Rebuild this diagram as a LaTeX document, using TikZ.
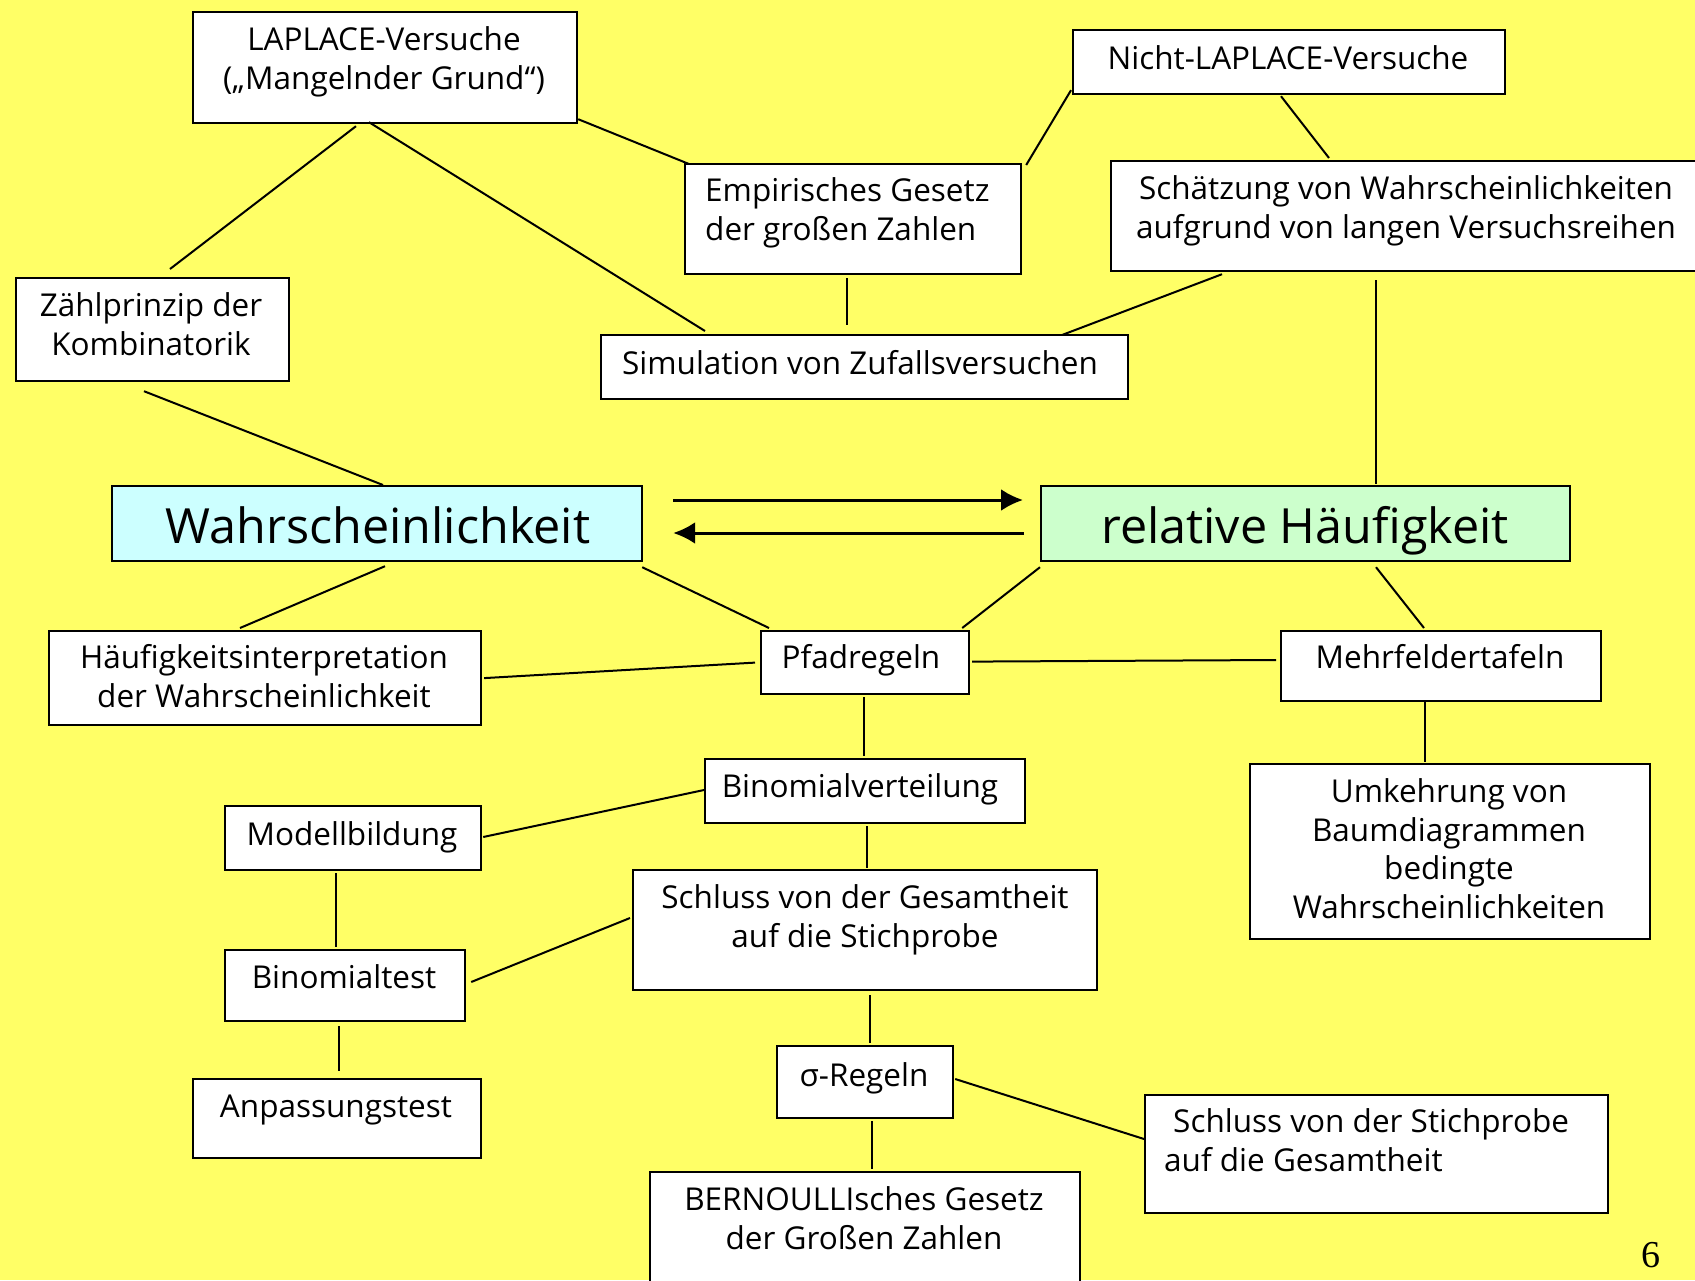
\documentclass[tikz,border=0pt]{standalone}
\usepackage{fontspec}
\setmainfont{Open Sans}
\newfontfamily\numfont{Liberation Serif}
\usetikzlibrary{arrows.meta,calc}
\definecolor{bg}{HTML}{FFFF66}
\definecolor{wcyan}{HTML}{CCFFFF}
\definecolor{wgreen}{HTML}{CCFFCC}
\tikzset{
  box/.style={draw=black, line width=2.2pt, fill=white, rectangle, inner sep=0pt, anchor=north west},
  txt/.style={inner sep=0pt, font=\fontsize{31.5}{38.5}\selectfont, align=center, anchor=base},
  txtl/.style={inner sep=0pt, font=\fontsize{31.5}{38.5}\selectfont, align=left, anchor=base west},
  bigtxt/.style={inner sep=0pt, font=\fontsize{48.5}{56}\selectfont, anchor=base},
  con/.style={line width=2pt},
  arr/.style={line width=3pt, -{Latex[length=22pt,width=22pt]}}
}
\begin{document}
\begin{tikzpicture}[x=1pt,y=-1pt]
\useasboundingbox (0,0) rectangle (1695,1280);
\fill[bg] (0,0) rectangle (1695,1280);

% boxes
\node[box, minimum width=384pt, minimum height=111pt] (lap) at (192,11) {};
\node[box, minimum width=432pt, minimum height=64pt] (nlap) at (1072,29) {};
\node[box, minimum width=336pt, minimum height=110pt] (emp) at (684,163) {};
\node[box, minimum width=600pt, minimum height=110pt] (sch) at (1110,160) {};
\node[box, minimum width=273pt, minimum height=103pt] (zp) at (15,277) {};
\node[box, minimum width=527pt, minimum height=64pt] (sim) at (600,334) {};
\node[box, fill=wcyan, minimum width=530pt, minimum height=75pt] (W) at (111,485) {};
\node[box, fill=wgreen, minimum width=529pt, minimum height=75pt] (rH) at (1040,485) {};
\node[box, minimum width=432pt, minimum height=94pt] (hi) at (48,630) {};
\node[box, minimum width=208pt, minimum height=63pt] (pf) at (760,630) {};
\node[box, minimum width=320pt, minimum height=70pt] (mf) at (1280,630) {};
\node[box, minimum width=320pt, minimum height=64pt] (bv) at (704,758) {};
\node[box, minimum width=256pt, minimum height=64pt] (mb) at (224,805) {};
\node[box, minimum width=400pt, minimum height=175pt] (uk) at (1249,763) {};
\node[box, minimum width=464pt, minimum height=120pt] (sg) at (632,869) {};
\node[box, minimum width=240pt, minimum height=71pt] (bt) at (224,949) {};
\node[box, minimum width=288pt, minimum height=79pt] (at) at (192,1078) {};
\node[box, minimum width=176pt, minimum height=72pt] (sr) at (776,1045) {};
\node[box, minimum width=463pt, minimum height=118pt] (ss) at (1144,1094) {};
\node[box, minimum width=430pt, minimum height=130pt] (be) at (649,1171) {};

% texts (anchor base = baseline of the last line)
\node[txt] (lapt) at (384,89) {LAPLACE-Versuche\\(„Mangelnder Grund“)};
\node[txt] (nlapt) at (1288,69) {Nicht-LAPLACE-Versuche};
\node[txtl] (empt) at (705,240) {Empirisches Gesetz\\der großen Zahlen};
\node[txt] (scht) at (1406,238) {Schätzung von Wahrscheinlichkeiten\\aufgrund von langen Versuchsreihen};
\node[txt] (zpt) at (151,355) {Zählprinzip der\\Kombinatorik};
\node[txt] (simt) at (860,374) {Simulation von Zufallsversuchen};
\node[bigtxt] (Wt) at (378,543) {Wahrscheinlichkeit};
\node[bigtxt] (rHt) at (1305,543) {relative Häufigkeit};
\node[txt] (hit) at (264,707) {Häufigkeitsinterpretation\\der Wahrscheinlichkeit};
\node[txt] (pft) at (861,668) {Pfadregeln};
\node[txt] (mft) at (1440,668) {Mehrfeldertafeln};
\node[txt] (bvt) at (860,797) {Binomialverteilung};
\node[txt] (mbt) at (352,845) {Modellbildung};
\node[txt] (ukt) at (1449,918) {Umkehrung von\\Baumdiagrammen\\bedingte\\Wahrscheinlichkeiten};
\node[txt] (sgt) at (865,947) {Schluss von der Gesamtheit\\auf die Stichprobe};
\node[txt] (btt) at (344,988) {Binomialtest};
\node[txt] (att) at (336,1117) {Anpassungstest};
\node[txt] (srt) at (864,1086) {σ-Regeln};
\node[txtl] (sst) at (1164,1171) {\hspace{9pt}Schluss von der Stichprobe\\auf die Gesamtheit};
\node[txt] (bet) at (864,1249) {BERNOULLIsches Gesetz\\der Großen Zahlen};
\node[inner sep=0pt, anchor=base, font=\numfont\fontsize{38}{40}\selectfont] (pg) at (1651,1267) {6};

% connectors
\draw[con] ($(lap.south west)+(164,2)$) -- ($(zp.north west)+(155,-8)$);
\draw[con] ($(lap.south west)+(177,-2)$) -- ($(sim.north west)+(105,-3)$);
\draw[con] ($(lap.south east)+(0,-5)$) -- ($(emp.north west)+(5,1)$);
\draw[con] ($(nlap.south west)+(-1,-5)$) -- ($(emp.north east)+(4,2)$);
\draw[con] ($(nlap.south west)+(209,1)$) -- ($(sch.north west)+(219,-2)$);
\draw[con] ($(emp.south west)+(163,3)$) -- ($(sim.north west)+(247,-9)$);
\draw[con] ($(sch.south west)+(112,2)$) -- ($(sim.north west)+(462,1)$);
\draw[con] ($(sch.south west)+(266,8)$) -- ($(rH.north west)+(336,-1)$);
\draw[con] ($(zp.south west)+(129,9)$) -- ($(W.north west)+(272,0)$);
\draw[con] ($(W.south west)+(274,4)$) -- ($(hi.north west)+(192,-2)$);
\draw[con] ($(W.south east)+(-1,5)$) -- ($(pf.north west)+(9,-2)$);
\draw[con] ($(rH.south west)+(0,5)$) -- ($(pf.north east)+(-8,-2)$);
\draw[con] ($(rH.south west)+(336,5)$) -- ($(mf.north west)+(144,-2)$);
\draw[con] ($(hi.east)+(2,0)$) -- ($(pf.west)+(-5,0)$);
\draw[con] ($(pf.east)+(2,-1)$) -- ($(mf.north west)+(-4,30)$);
\draw[con] ($(pf.south west)+(104,2)$) -- ($(bv.north west)+(160,-2)$);
\draw[con] ($(mf.south west)+(145,0)$) -- ($(uk.north west)+(176,-1)$);
\draw[con] ($(bv.north west)+(0,32)$) -- ($(mb.north east)+(1,32)$);
\draw[con] ($(bv.south west)+(163,2)$) -- ($(sg.north west)+(235,-1)$);
\draw[con] ($(mb.south west)+(112,2)$) -- ($(bt.north west)+(112,-2)$);
\draw[con] ($(sg.north west)+(-2,49)$) -- ($(bt.north east)+(5,33)$);
\draw[con] ($(bt.south west)+(115,4)$) -- ($(at.north west)+(147,-7)$);
\draw[con] ($(sg.south west)+(238,4)$) -- ($(sr.north west)+(94,-2)$);
\draw[con] ($(sr.north east)+(1,34)$) -- ($(ss.north west)+(0,45)$);
\draw[con] ($(sr.south west)+(96,2)$) -- ($(be.north west)+(223,-2)$);

% arrows
\draw[arr] ($(W.north east)+(30,15)$) -- ($(rH.north west)+(-17,15)$);
\draw[arr] ($(rH.north west)+(-16,48)$) -- ($(W.north east)+(30,48)$);
\end{tikzpicture}
\end{document}
